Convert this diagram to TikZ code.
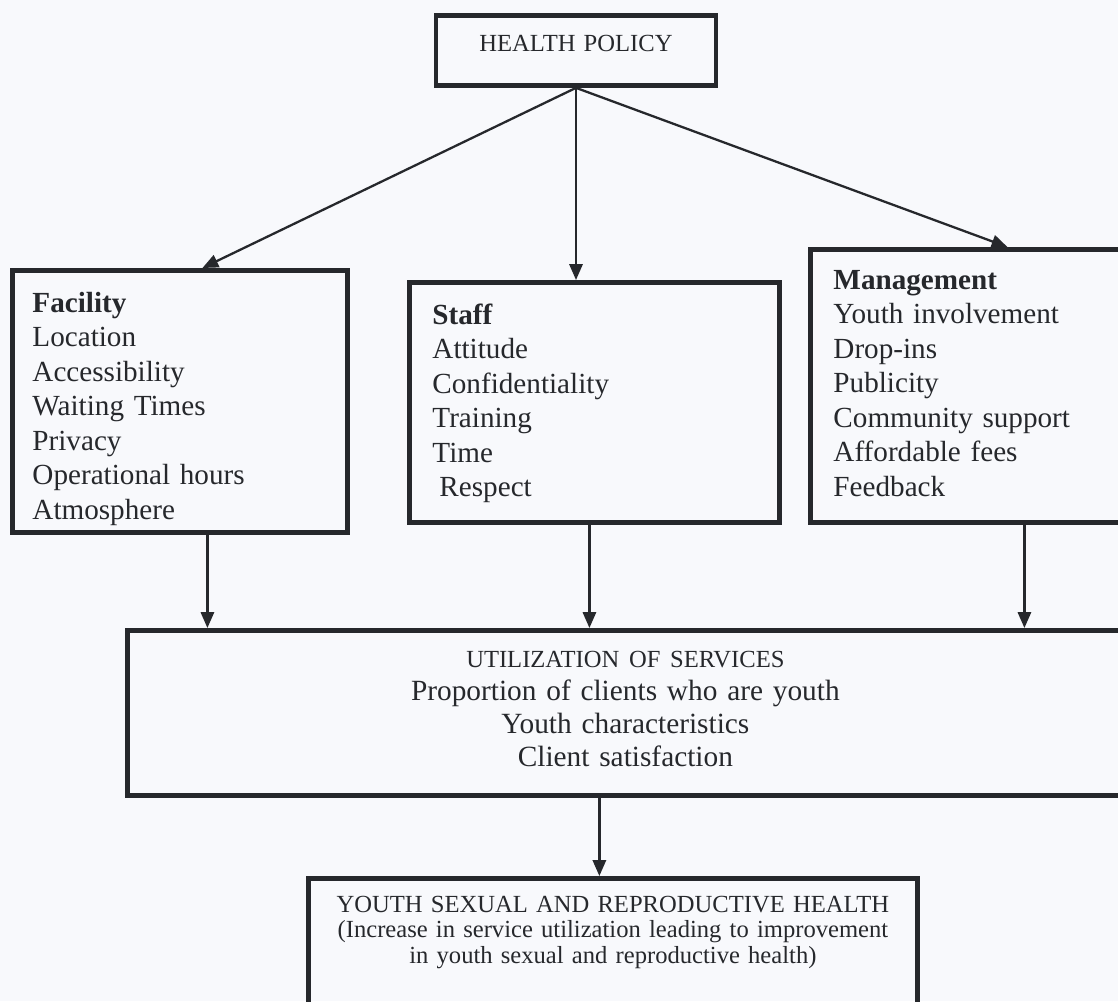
\documentclass[tikz,border=0pt]{standalone}
\usepackage{fontspec}
\setmainfont{Liberation Serif}
\usetikzlibrary{arrows.meta}
\definecolor{ink}{RGB}{38,40,44}
\definecolor{paper}{RGB}{248,249,252}
\begin{document}
\begin{tikzpicture}[
x=0.02cm, y=-0.02cm,
box/.style={draw=ink, line width=2.8pt, inner sep=0pt, text=ink},
list/.style={box, align=left, font=\fontsize{16.6}{19.6}\selectfont},
link/.style={draw=ink, line width=1.3pt, -{Triangle[length=9pt,width=7.5pt]}},
]
\fill[paper] (0,0) rectangle (1118,1001);
\clip (0,0) rectangle (1118,1001);
\node[box, anchor=north, minimum width=5.6cm, text width=5.2cm, align=center,
  text height=20.5pt, text depth=19.3pt, font=\fontsize{14}{16}\selectfont]
  (policy) at (576,13) {HEALTH POLICY};
\node[list, anchor=north west, minimum width=6.7cm, text width=5.9cm,
  text height=23.9pt, text depth=125.2pt] (facility) at (10,268)
  {\textbf{Facility}\\Location\\Accessibility\\Waiting Times\\Privacy\\Operational hours\\Atmosphere};
\node[list, anchor=north west, minimum width=7.4cm, text width=6.48cm,
  text height=23.9pt, text depth=112.7pt] (staff) at (407,280)
  {\textbf{Staff}\\Attitude\\Confidentiality\\Training\\Time\\\hspace*{4pt}Respect};
\node[list, anchor=north west, minimum width=6.34cm, text width=5.42cm,
  text height=22.8pt, text depth=132.6pt] (management) at (808,247)
  {\textbf{Management}\\Youth involvement\\Drop-ins\\Publicity\\Community support\\Affordable fees\\Feedback};
\node[box, anchor=north west, minimum width=19.92cm, text width=19.92cm, align=center,
  text height=21pt, text depth=72.8pt, font=\fontsize{16.7}{18.8}\selectfont] (utilization) at (125,628)
  {{\fontsize{14}{18.8}\selectfont UTILIZATION OF SERVICES}\\Proportion of clients who are youth\\Youth characteristics\\Client satisfaction};
\node[box, anchor=north west, minimum width=12.18cm, text width=12.18cm, align=center,
  text height=19.3pt, text depth=57pt, font=\fontsize{14}{14.5}\selectfont] (outcome) at (306,876)
  {YOUTH SEXUAL AND REPRODUCTIVE HEALTH\\(Increase in service utilization leading to improvement\\in youth sexual and reproductive health)};
\draw[link] (policy.south) -- ([xshift=0.45cm]facility.north);
\draw[link] (policy.south) -- (policy.south |- staff.north);
\draw[link] (policy.south) -- ([xshift=0.77cm]management.north);
\draw[link] ([xshift=0.55cm]facility.south) coordinate (f) -- (f |- utilization.north);
\draw[link] ([xshift=-0.1cm]staff.south) coordinate (s) -- (s |- utilization.north);
\draw[link] ([xshift=1.11cm]management.south) coordinate (m) -- (m |- utilization.north);
\draw[link] ([xshift=-0.52cm]utilization.south) coordinate (u) -- (u |- outcome.north);
\end{tikzpicture}
\end{document}
